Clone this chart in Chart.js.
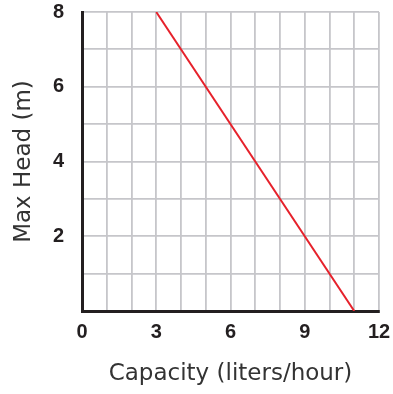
<!DOCTYPE html>
<html>
<head>
<meta charset="utf-8">
<script src="https://cdn.jsdelivr.net/npm/chart.js@4/dist/chart.umd.min.js"></script>
<style>
  html, body { margin: 0; padding: 0; background: #fff; }
  #wrap { width: 393px; height: 394px; }
</style>
</head>
<body>
<div id="wrap"><canvas id="pumpChart" width="393" height="394"></canvas></div>
<script>
// Pump curve: capacity vs max head
const capacity = [3, 11];
const maxHead = [8, 0];
const xTickLabels = [0, 3, 6, 9, 12];
const yTickLabels = [2, 4, 6, 8];

const gridColor = '#c6c6ca';
const axisColor = '#231f20';
const tickFont = { family: 'Liberation Sans', size: 20, weight: 'bold' };
const titleFont = { family: 'DejaVu Sans', size: 23 };

const ctx = document.getElementById('pumpChart').getContext('2d');
new Chart(ctx, {
  type: 'scatter',
  data: {
    datasets: [{
      data: capacity.map((c, i) => ({ x: c, y: maxHead[i] })),
      showLine: true,
      borderColor: '#e6212b',
      borderWidth: 2,
      pointRadius: 0,
      fill: false
    }]
  },
  options: {
    responsive: false,
    animation: false,
    layout: { padding: { top: 12, right: 14, left: 0, bottom: 0 } },
    plugins: {
      legend: { display: false },
      tooltip: { enabled: false }
    },
    scales: {
      x: {
        type: 'linear',
        min: 0,
        max: 12,
        afterFit: scale => {
          scale.height = 83;
          scale.paddingLeft = 0;
          scale.paddingRight = 0;
        },
        ticks: {
          stepSize: 1,
          padding: 9,
          color: axisColor,
          font: tickFont,
          maxRotation: 0,
          autoSkip: false,
          callback: v => xTickLabels.includes(v) ? String(v) : ''
        },
        grid: { color: gridColor, lineWidth: 1.8, drawTicks: false },
        border: { color: axisColor, width: 3 },
        title: {
          display: true,
          text: 'Capacity (liters/hour)',
          color: '#333333',
          font: titleFont,
          padding: { top: 0, bottom: 6 }
        }
      },
      y: {
        type: 'linear',
        min: 0,
        max: 8,
        afterFit: scale => {
          scale.width = 82;
          scale.paddingTop = 0;
          scale.paddingBottom = 0;
        },
        ticks: {
          stepSize: 1,
          padding: 18,
          color: axisColor,
          font: tickFont,
          autoSkip: false,
          callback: v => yTickLabels.includes(v) ? String(v) : ''
        },
        grid: { color: gridColor, lineWidth: 1.8, drawTicks: false },
        border: { color: axisColor, width: 3 },
        title: {
          display: true,
          text: 'Max Head (m)',
          color: '#333333',
          font: titleFont,
          padding: { top: 10, bottom: 0 }
        }
      }
    }
  }
});
</script>
</body>
</html>
